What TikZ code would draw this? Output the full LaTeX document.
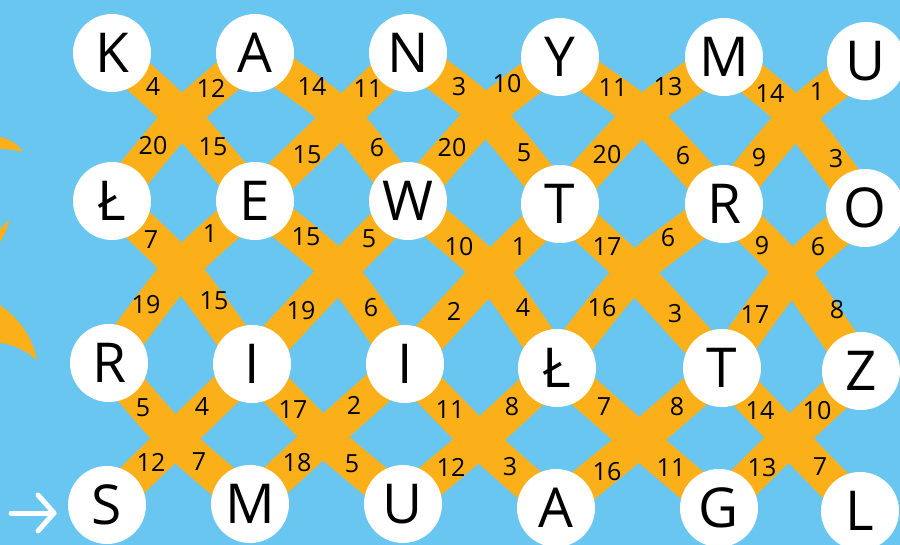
\documentclass[tikz,border=0pt]{standalone}
\usepackage{fontspec}
\setmainfont{Open Sans}
\usetikzlibrary{backgrounds}
\definecolor{sky}{HTML}{68C6F0}
\definecolor{gold}{HTML}{FBB019}
\begin{document}
\begin{tikzpicture}[x=1pt,y=-1pt,
  disc/.style={circle, fill=white, minimum size=78pt, inner sep=0pt,
    font=\fontsize{55}{55}\selectfont, text height=39pt, text depth=0pt},
  num/.style={inner sep=0pt, font=\fontsize{25}{25}\selectfont,
    text height=17.8pt, text depth=0pt},
  band/.style={draw=gold, line width=35pt, line join=round},
  deco/.style={fill=gold, draw=none},
  pointer/.style={draw=white, line width=5pt, line cap=round, line join=round}
]
\useasboundingbox (0,0) rectangle (900,545);
% letter discs
\foreach \nm/\x/\y/\t in {
  c11/112/53/K, c12/255/53/A, c13/408/53/N, c14/560/57/Y, c15/724/57/M, c16/866/61/U,
  c21/112/201/Ł, c22/255/201/E, c23/408/201/W, c24/560/204/T, c25/724/204/R, c26/865/208/O,
  c31/109/363/R, c32/252/364/I, c33/405/364/I, c34/557/368/Ł, c35/722/368/T, c36/861/371/Z,
  c41/107/505/S, c42/250/504/M, c43/403/504/U, c44/556/508/A, c45/719/508/G, c46/860/511/L}
  \node[disc] (\nm) at (\x,\y) {\t};
% crossing points
\foreach \nm/\x/\y in {
  x11/182/117, x12/342/117, x13/486/114, x14/642/115, x15/796/117,
  x21/181/268, x22/339/271, x23/490/272, x24/634/272, x25/792/272,
  x31/175/439, x32/323/437, x33/479/440, x34/639/440, x35/789/438}
  \coordinate (\nm) at (\x,\y);
\begin{scope}[on background layer]
  \fill[sky] (0,0) rectangle (900,545);
  \foreach \r in {1,2,3}{
    \foreach \c in {1,...,5}{
      \pgfmathtruncatemacro\rr{\r+1}
      \pgfmathtruncatemacro\cc{\c+1}
      \draw[band] plot[smooth] coordinates {(c\r\c.center) (x\r\c) (c\rr\cc.center)};
      \draw[band] plot[smooth] coordinates {(c\r\cc.center) (x\r\c) (c\rr\c.center)};
    }
  }
  % partial shapes on the left edge
  \fill[deco] (0,137) .. controls (10,139) and (18,144) .. (23,152)
     .. controls (14,150) and (7,149) .. (0,149) -- cycle;
  \fill[deco] (0,229) .. controls (4,225) and (7,222) .. (9,219)
     .. controls (8,228) and (4,236) .. (0,242) -- cycle;
  \fill[deco] (0,305) .. controls (18,318) and (32,335) .. (37,360)
     .. controls (25,350) and (12,344) .. (0,343) -- cycle;
\end{scope}
% numbers
\foreach \x/\y/\t [count=\i] in {
  153/87/4, 211/89/12, 153/146/20, 213/147/15,
  312/87/14, 368/89/11, 307/155/15, 377/148/6,
  459/87/3, 507/84/10, 452/148/20, 524/153/5,
  613/88/11, 668/87/13, 607/155/20, 683/156/6,
  770/94/14, 817/92/1, 759/158/9, 836/159/3,
  151/240/7, 210/234/1, 146/305/19, 214/301/15,
  306/237/15, 369/239/5, 301/311/19, 371/308/6,
  459/247/10, 519/247/1, 454/312/2, 523/308/4,
  607/247/17, 668/238/6, 602/308/16, 675/314/3,
  762/246/9, 818/247/6, 755/315/17, 837/310/8,
  143/408/5, 202/407/4, 151/463/12, 199/462/7,
  293/410/17, 354/406/2, 297/463/18, 352/464/5,
  450/410/11, 512/407/8, 451/468/12, 510/467/3,
  604/407/7, 677/407/8, 607/472/16, 671/468/11,
  760/411/14, 817/411/10, 762/468/13, 820/467/7}
  \node[num] (n\i) at (\x,\y) {\t};
% start arrow
\coordinate (ar0) at (11,513);
\coordinate (ar1) at (54,513);
\coordinate (ar2) at (38,495);
\coordinate (ar3) at (38,531);
\draw[pointer] (ar0) -- (ar1);
\draw[pointer] (ar2) -- (ar1) -- (ar3);
\end{tikzpicture}
\end{document}
